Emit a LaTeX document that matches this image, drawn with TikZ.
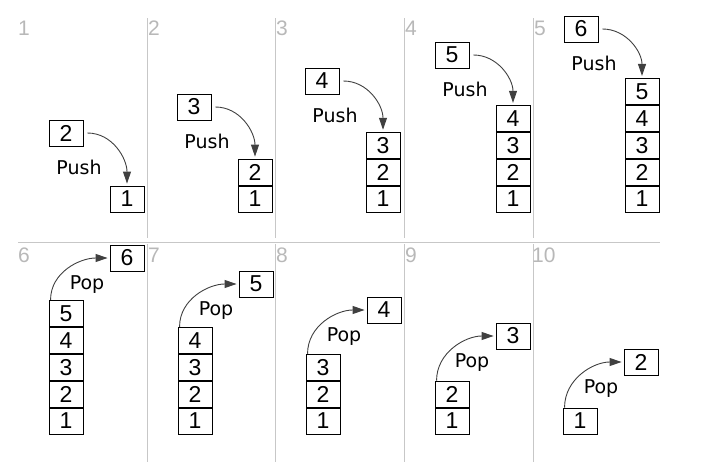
\documentclass[tikz,border=0pt]{standalone}
\usepackage{fontspec}
\setmainfont{DejaVu Sans}
\newfontfamily\numfont{Liberation Sans}
\usetikzlibrary{positioning,arrows.meta}

\begin{document}
\begin{tikzpicture}[x=1pt, y=1pt,
  every node/.style={inner sep=0pt},
  cell/.style   ={draw, line width=0.9pt, minimum width=34pt, minimum height=26pt,
                  font=\numfont\fontsize{23}{23}\selectfont},
  opname/.style ={anchor=base, font=\fontsize{19}{19}\selectfont},
  panlbl/.style ={anchor=base west, text=black!28,
                  font=\numfont\fontsize{21}{21}\selectfont},
  divider/.style={draw=black!22, line width=1pt},
  move/.style   ={-{Triangle[length=12pt,width=8pt]}, draw=black!75, line width=0.9pt}]

\useasboundingbox (0,0) rectangle (720,-471);

%% -- Grid -------------------------------------------------------------
\draw[divider] (18,-242) -- (660,-242);
\draw[divider] (147,-18) -- (147,-238)  (275,-18) -- (275,-238)
               (404,-18) -- (404,-238)  (533,-18) -- (533,-238);
\draw[divider] (147,-244) -- (147,-462) (275,-244) -- (275,-462)
               (404,-244) -- (404,-462) (533,-244) -- (533,-462);

%% -- Panel numbers ----------------------------------------------------
\node[panlbl] (lbl1)  at (18,-35)   {1};
\node[panlbl] (lbl2)  at (148,-35)  {2};
\node[panlbl] (lbl3)  at (276,-35)  {3};
\node[panlbl] (lbl4)  at (405,-35)  {4};
\node[panlbl] (lbl5)  at (534,-35)  {5};
\node[panlbl] (lbl6)  at (18,-262)  {6};
\node[panlbl] (lbl7)  at (148,-262) {7};
\node[panlbl] (lbl8)  at (276,-262) {8};
\node[panlbl] (lbl9)  at (405,-262) {9};
\node[panlbl] (lbl10) at (532,-262) {10};

%% -- Panel 1: push 2 --------------------------------------------------
\node[cell] (p1c1)  at (127,-199) {1};
\node[cell] (p1new) at (66,-133)  {2};
\node[opname] (p1txt) at (79,-174) {Push};
\draw[move] ([xshift=4pt]p1new.east) to[out=0,in=90] ([yshift=2pt]p1c1.north);

%% -- Panel 2: push 3 --------------------------------------------------
\node[cell] (p2c1)  at (255,-199) {1};
\node[cell, above=0pt of p2c1] (p2c2) {2};
\node[cell] (p2new) at (194,-107) {3};
\node[opname] (p2txt) at (207,-148) {Push};
\draw[move] ([xshift=4pt]p2new.east) to[out=0,in=90] ([yshift=2pt]p2c2.north);

%% -- Panel 3: push 4 --------------------------------------------------
\node[cell] (p3c1)  at (383,-199) {1};
\node[cell, above=0pt of p3c1] (p3c2) {2};
\node[cell, above=0pt of p3c2] (p3c3) {3};
\node[cell] (p3new) at (322,-81) {4};
\node[opname] (p3txt) at (335,-122) {Push};
\draw[move] ([xshift=4pt]p3new.east) to[out=0,in=90] ([yshift=2pt]p3c3.north);

%% -- Panel 4: push 5 --------------------------------------------------
\node[cell] (p4c1)  at (513,-199) {1};
\node[cell, above=0pt of p4c1] (p4c2) {2};
\node[cell, above=0pt of p4c2] (p4c3) {3};
\node[cell, above=0pt of p4c3] (p4c4) {4};
\node[cell] (p4new) at (452,-55) {5};
\node[opname] (p4txt) at (465,-96) {Push};
\draw[move] ([xshift=4pt]p4new.east) to[out=0,in=90] ([yshift=2pt]p4c4.north);

%% -- Panel 5: push 6 --------------------------------------------------
\node[cell] (p5c1)  at (642,-199) {1};
\node[cell, above=0pt of p5c1] (p5c2) {2};
\node[cell, above=0pt of p5c2] (p5c3) {3};
\node[cell, above=0pt of p5c3] (p5c4) {4};
\node[cell, above=0pt of p5c4] (p5c5) {5};
\node[cell] (p5new) at (581,-29) {6};
\node[opname] (p5txt) at (594,-70) {Push};
\draw[move] ([xshift=4pt]p5new.east) to[out=0,in=90] ([yshift=2pt]p5c5.north);

%% -- Panel 6: pop 6 ---------------------------------------------------
\node[cell] (p6c1)  at (66,-421) {1};
\node[cell, above=0pt of p6c1] (p6c2) {2};
\node[cell, above=0pt of p6c2] (p6c3) {3};
\node[cell, above=0pt of p6c3] (p6c4) {4};
\node[cell, above=0pt of p6c4] (p6c5) {5};
\node[cell] (p6new) at (127,-258) {6};
\node[opname] (p6txt) at (87,-289) {Pop};
\draw[move] ([xshift=2pt]p6c5.north west) to[out=90,in=180] ([xshift=-2pt]p6new.west);

%% -- Panel 7: pop 5 ---------------------------------------------------
\node[cell] (p7c1)  at (195,-421) {1};
\node[cell, above=0pt of p7c1] (p7c2) {2};
\node[cell, above=0pt of p7c2] (p7c3) {3};
\node[cell, above=0pt of p7c3] (p7c4) {4};
\node[cell] (p7new) at (256,-284) {5};
\node[opname] (p7txt) at (216,-315) {Pop};
\draw[move] ([xshift=2pt]p7c4.north west) to[out=90,in=180] ([xshift=-2pt]p7new.west);

%% -- Panel 8: pop 4 ---------------------------------------------------
\node[cell] (p8c1)  at (323,-421) {1};
\node[cell, above=0pt of p8c1] (p8c2) {2};
\node[cell, above=0pt of p8c2] (p8c3) {3};
\node[cell] (p8new) at (384,-310) {4};
\node[opname] (p8txt) at (344,-341) {Pop};
\draw[move] ([xshift=2pt]p8c3.north west) to[out=90,in=180] ([xshift=-2pt]p8new.west);

%% -- Panel 9: pop 3 ---------------------------------------------------
\node[cell] (p9c1)  at (452,-421) {1};
\node[cell, above=0pt of p9c1] (p9c2) {2};
\node[cell] (p9new) at (513,-336) {3};
\node[opname] (p9txt) at (472,-367) {Pop};
\draw[move] ([xshift=2pt]p9c2.north west) to[out=90,in=180] ([xshift=-2pt]p9new.west);

%% -- Panel 10: pop 2 --------------------------------------------------
\node[cell] (p10c1)  at (580,-421) {1};
\node[cell] (p10new) at (641,-362) {2};
\node[opname] (p10txt) at (601,-393) {Pop};
\draw[move] ([xshift=2pt]p10c1.north west) to[out=90,in=180] ([xshift=-2pt]p10new.west);
\end{tikzpicture}
\end{document}
